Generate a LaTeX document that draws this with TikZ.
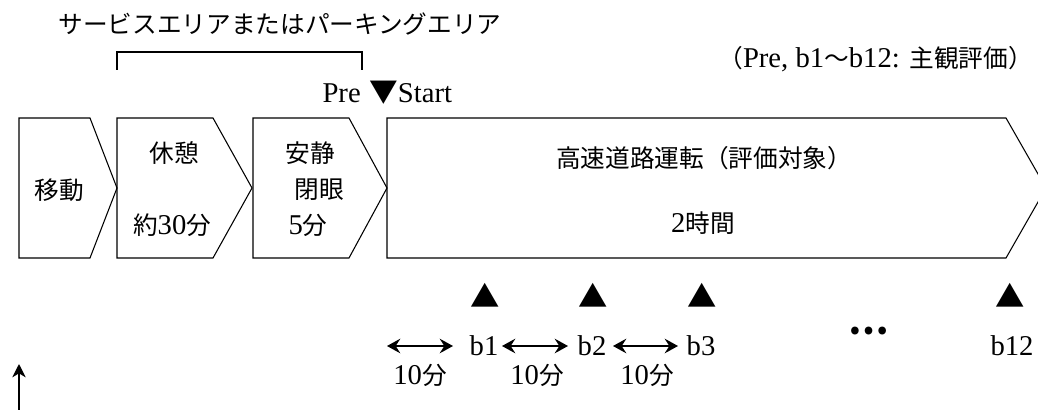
\documentclass[tikz,border=0pt]{standalone}
\usepackage{fontspec}
\setmainfont{Liberation Serif}
\newfontfamily\cjk{Noto Sans CJK JP}
\newcommand{\jtext}[1]{{\cjk\fontsize{18.5}{22}\selectfont #1}}
\usetikzlibrary{arrows.meta}
\begin{document}
\begin{tikzpicture}[x=0.75pt,y=-0.75pt,
  chev/.style={draw=black, line width=0.8pt, line join=miter},
  lbl/.style={inner sep=0pt, font=\fontsize{21.5}{24}\selectfont},
  tri/.style={inner sep=0pt, font=\cjk\fontsize{22}{24}\selectfont},
  dbl/.style={{Stealth[length=10pt,width=11pt,inset=3.5pt]}-{Stealth[length=10pt,width=11pt,inset=3.5pt]}, line width=1pt},
  uparrow/.style={-{Stealth[length=10pt,width=10pt,inset=3pt]}, line width=0.9pt},
  brk/.style={draw=black, line width=0.8pt}]
\useasboundingbox (0,0) rectangle (1038,410);

% chevrons
\draw[chev] (19,118) -- (90,118) -- (117,188) -- (90,258) -- (19,258) -- cycle;
\draw[chev] (117,118) -- (213,118) -- (252,188) -- (213,258) -- (117,258) -- cycle;
\draw[chev] (253,118) -- (349,118) -- (387,188) -- (349,258) -- (253,258) -- cycle;
\draw[chev] (387,118) -- (1006,118) -- (1046,188) -- (1006,258) -- (387,258) -- cycle;

% top labels
\node[lbl] (area) at (280,24) {\jtext{サービスエリアまたはパーキングエリア}};
\draw[brk] (117,70) -- (117,52) -- (362,52) -- (362,70);
\node[lbl, anchor=base east] (pre) at (361,103) {Pre};
\node[lbl, anchor=base west] (start) at (369,103) {{\cjk ▼}Start};
\node[lbl, anchor=base east] (note) at (1033,68) {\jtext{（}Pre, b1\jtext{～}b12: \jtext{主観評価）}};

% texts inside chevrons
\node[lbl] (move) at (59,190) {\jtext{移動}};
\node[lbl] (rest) at (174,153) {\jtext{休憩}};
\node[lbl, anchor=base] (rest30) at (172,234) {\jtext{約}30\jtext{分}};
\node[lbl] (calm) at (310,153) {\jtext{安静}};
\node[lbl] (eyes) at (319,190) {\jtext{閉眼}};
\node[lbl, anchor=base] (calm5) at (308,234) {5\jtext{分}};
\node[lbl] (drive) at (704,158) {\jtext{高速道路運転（評価対象）}};
\node[lbl, anchor=base] (drive2) at (703,232) {2\jtext{時間}};

% evaluation marks
\node[tri] (t1) at (485,295) {▲};
\node[tri] (t2) at (593,295) {▲};
\node[tri] (t3) at (702,295) {▲};
\node[tri] (t12) at (1010,295) {▲};
\node[lbl, anchor=base] (b1) at (484,355) {b1};
\node[lbl, anchor=base] (b2) at (592,355) {b2};
\node[lbl, anchor=base] (b3) at (701,355) {b3};
\node[lbl, anchor=base] (b12) at (1012,355) {b12};
\node[inner sep=0pt, font=\cjk\bfseries\fontsize{27}{30}\selectfont] (dots) at (869,331) {…};

% interval arrows
\coordinate (a1s) at (387,346); \coordinate (a1e) at (453,346);
\coordinate (a2s) at (502,346); \coordinate (a2e) at (568,346);
\coordinate (a3s) at (613,346); \coordinate (a3e) at (678,346);
\draw[dbl] (a1s) -- (a1e);
\draw[dbl] (a2s) -- (a2e);
\draw[dbl] (a3s) -- (a3e);
\node[lbl, anchor=base] (m1) at (420,384) {10\jtext{分}};
\node[lbl, anchor=base] (m2) at (537,384) {10\jtext{分}};
\node[lbl, anchor=base] (m3) at (647,384) {10\jtext{分}};

% up arrow
\coordinate (ups) at (19,410); \coordinate (upe) at (19,364);
\draw[uparrow] (ups) -- (upe);
\end{tikzpicture}
\end{document}
